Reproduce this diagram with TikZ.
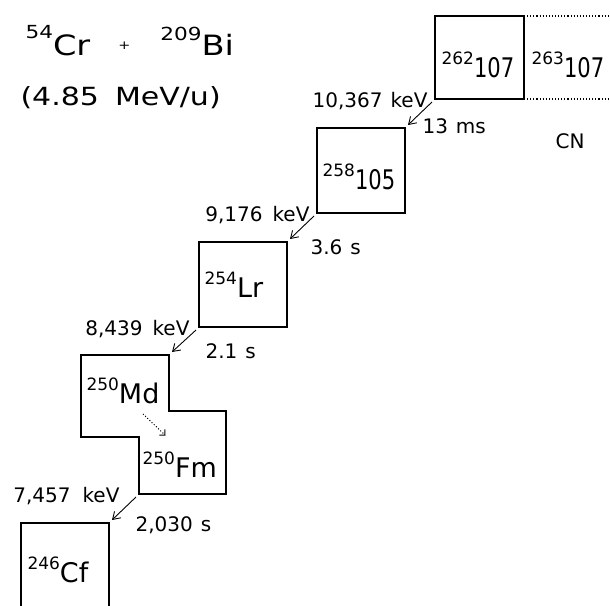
\documentclass[tikz,border=0pt]{standalone}
\usepackage{fontspec}
\setmainfont{DejaVu Sans}
\newfontfamily\narrowdig{DejaVu Sans}[FakeStretch=0.78]
\newfontfamily\widefont{DejaVu Sans}[FakeStretch=1.2]
\usetikzlibrary{arrows.meta}

% mass number raised in front of the element
\newcommand{\iso}[3][13pt]{\raisebox{#1}{\fontsize{17}{17}\selectfont #2}#3}

\begin{document}
\begin{tikzpicture}[x=1pt, y=-1pt, line width=1.1pt,
		nbox/.style={minimum width=88pt, minimum height=85pt, inner sep=0pt, outer sep=0pt},
		nuc/.style={font=\fontsize{27}{27}\selectfont, inner sep=0pt, anchor=base west},
		info/.style={font=\fontsize{20}{20}\selectfont, inner sep=0pt},
		decay/.style={-{Straight Barb[length=7pt, width=9pt]}, line width=0.9pt},
		ecarrow/.style={dotted, line width=1pt, -{Straight Barb[length=4pt, width=8pt]}}]
		
		\useasboundingbox (0,0) rectangle (610,605);
		
		% Reaction and beam energy
		\node[anchor=base west, inner sep=0pt, font=\widefont] (reac) at (25,55)
			{\raisebox{17pt}{\fontsize{18}{18}\selectfont 54}{\fontsize{28}{28}\selectfont Cr}\hspace{28pt}{\fontsize{12}{12}\selectfont\raisebox{6pt}{+}}\hspace{30pt}\raisebox{15pt}{\fontsize{18}{18}\selectfont 209}{\fontsize{28}{28}\selectfont Bi}};
		\node[anchor=base west, inner sep=0pt, font=\widefont\fontsize{25}{25}\selectfont] (ebeam) at (20,105) {(4.85\hspace{16pt}MeV/u)};
		
		% Compound nucleus and evaporation residue
		\node[nbox, minimum width=89pt, minimum height=83pt, draw] (b262) at (479.5,57.5) {};
		\node[nbox, minimum width=89pt, minimum height=83pt] (b263) at (568.5,57.5) {};
		\draw[dotted] (b263.north west) -- (b263.north east);
		\draw[dotted] (b263.south west) -- (b263.south east);
		\node[nuc] (l262) at (441,77) {\iso{262}{\narrowdig 107}};
		\node[nuc] (l263) at (531,77) {\iso{263}{\narrowdig 107}};
		\node[info] (cn) at (570,141) {CN};
		
		% Alpha decay chain
		\node[nbox, draw] (b258) at (361,170.5) {};
		\node[nuc] (l258) at (322,189) {\iso{258}{\narrowdig 105}};
		\node[nbox, draw] (b254) at (243,284.5) {};
		\node[nuc] (l254) at (204,297) {\iso{254}{Lr}};
		
		% Md and Fm share one outline
		\node[nbox, minimum height=82pt] (md) at (125,396) {};
		\node[nbox, minimum width=87pt, minimum height=83pt] (fm) at (182.5,452.5) {};
		\draw (md.north west) -- (md.north east) -- (md.east |- fm.north) -- (fm.north east)
			-- (fm.south east) -- (fm.south west) -- (fm.west |- md.south) -- (md.south west) -- cycle;
		\node[nuc] (lmd) at (86,403) {\iso{250}{Md}};
		\node[nuc] (lfm) at (142,477) {\iso{250}{Fm}};
		\draw[ecarrow] ([shift={(18,18)}]md.center) -- ([shift={(-17,-17)}]fm.center);
		
		% Cf box runs off the bottom
		\node[nbox, minimum height=88pt] (cf) at (65,567) {};
		\draw (cf.south west) -- (cf.north west) -- (cf.north east) -- (cf.south east);
		\node[nuc] (lcf) at (27,582) {\iso{246}{Cf}};
		
		% Decay arrows with energies and half-lives
		\draw[decay] ([shift={(-3,3)}]b262.south west) -- ([shift={(3,-3)}]b258.north east);
		\node[info, anchor=base east] (e1) at (428,107) {10,367\hspace{8pt}keV};
		\node[info, anchor=base west] (t1) at (422,133) {13\hspace{8pt}ms};
		
		\draw[decay] ([shift={(-3,3)}]b258.south west) -- ([shift={(3,-3)}]b254.north east);
		\node[info, anchor=base east] (e2) at (310,221) {9,176\hspace{10pt}keV};
		\node[info, anchor=base west] (t2) at (310,254) {3.6\hspace{8pt}s};
		
		\draw[decay] ([shift={(-3,3)}]b254.south west) -- ([shift={(3,-3)}]md.north east);
		\node[info, anchor=base east] (e3) at (190,335) {8,439\hspace{10pt}keV};
		\node[info, anchor=base west] (t3) at (205,358) {2.1\hspace{8pt}s};
		
		\draw[decay] ([shift={(-3,3)}]fm.south west) -- ([shift={(3,-3)}]cf.north east);
		\node[info, anchor=base east] (e4) at (120,502) {7,457\hspace{12pt}keV};
		\node[info, anchor=base west] (t4) at (135,531) {2,030\hspace{8pt}s};
		
	\end{tikzpicture}
\end{document}
